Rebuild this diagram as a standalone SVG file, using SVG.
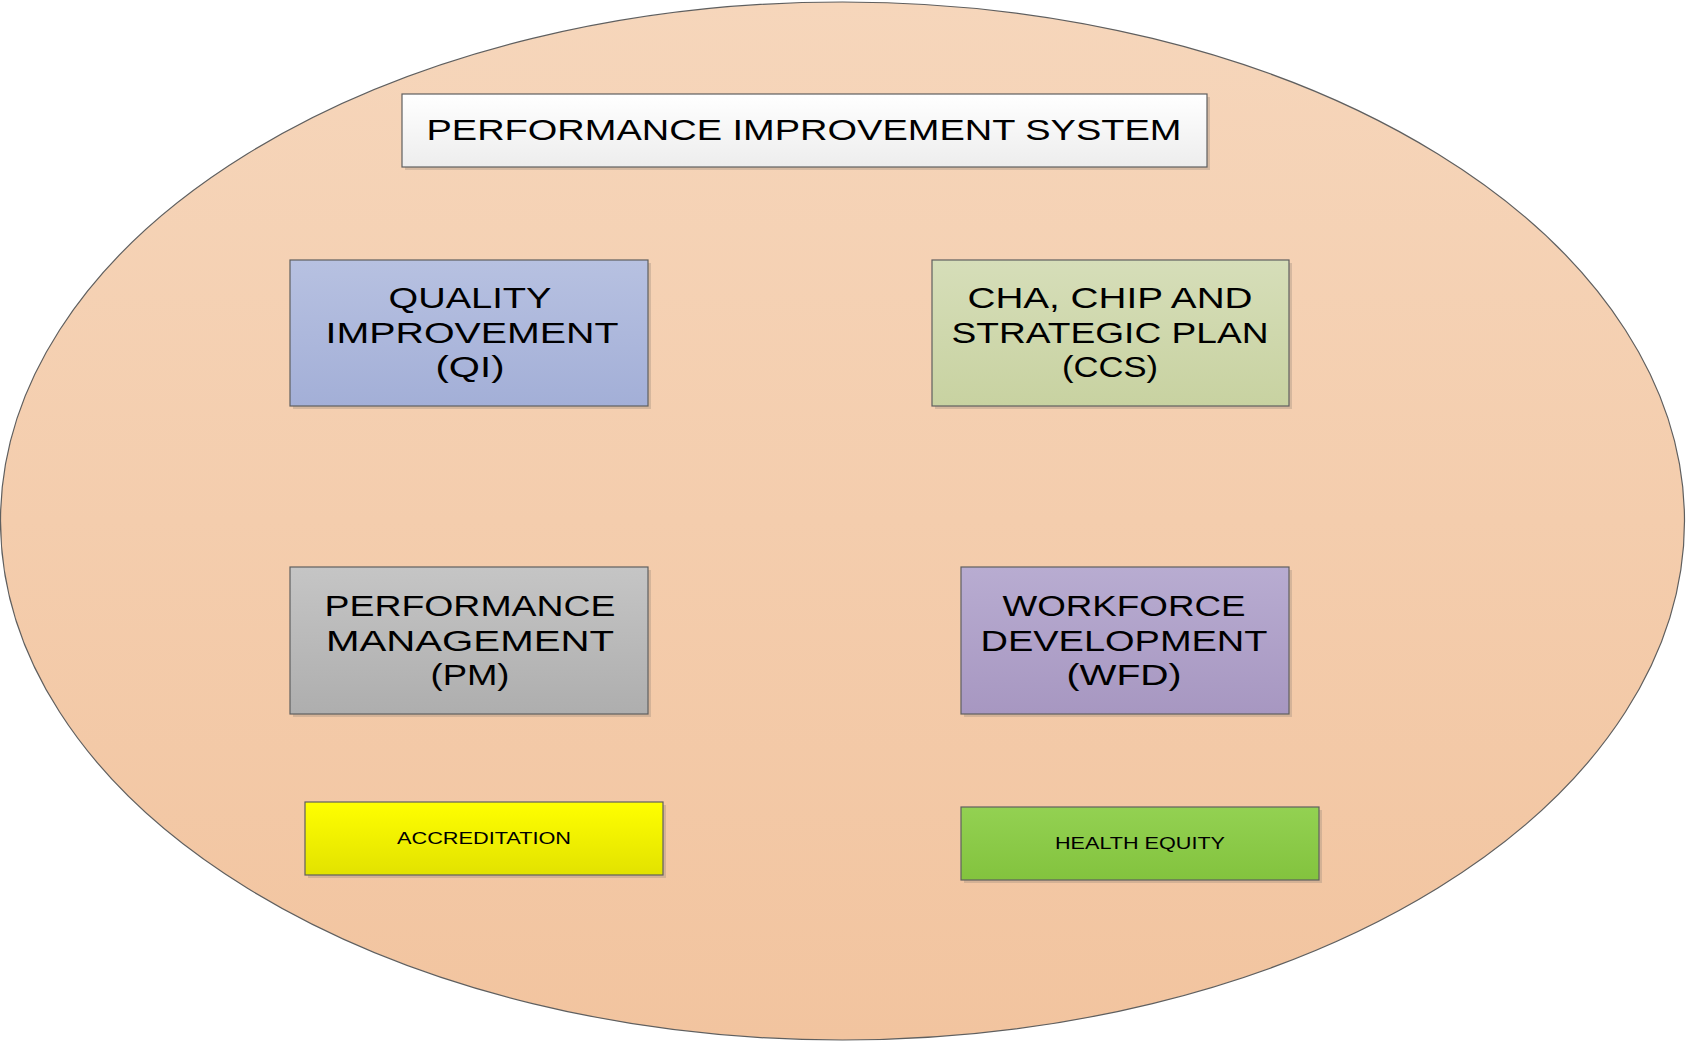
<svg xmlns="http://www.w3.org/2000/svg" width="1689" height="1042" viewBox="0 0 1689 1042">
<defs>
<linearGradient id="gEll" x1="0" y1="0" x2="0" y2="1"><stop offset="0" stop-color="#F6D6BB"/><stop offset="1" stop-color="#F2C49F"/></linearGradient>
<linearGradient id="gTitle" x1="0" y1="0" x2="0" y2="1"><stop offset="0" stop-color="#FFFFFF"/><stop offset="1" stop-color="#EDEDED"/></linearGradient>
<linearGradient id="gQI" x1="0" y1="0" x2="0" y2="1"><stop offset="0" stop-color="#B7C1E1"/><stop offset="1" stop-color="#A3AFD7"/></linearGradient>
<linearGradient id="gCCS" x1="0" y1="0" x2="0" y2="1"><stop offset="0" stop-color="#D6DEB9"/><stop offset="1" stop-color="#C8D2A1"/></linearGradient>
<linearGradient id="gPM" x1="0" y1="0" x2="0" y2="1"><stop offset="0" stop-color="#C5C5C5"/><stop offset="1" stop-color="#AEAEAE"/></linearGradient>
<linearGradient id="gWFD" x1="0" y1="0" x2="0" y2="1"><stop offset="0" stop-color="#B8ACD1"/><stop offset="1" stop-color="#A797C1"/></linearGradient>
<linearGradient id="gAcc" x1="0" y1="0" x2="0" y2="1"><stop offset="0" stop-color="#FFFF00"/><stop offset="1" stop-color="#E2E200"/></linearGradient>
<linearGradient id="gHE" x1="0" y1="0" x2="0" y2="1"><stop offset="0" stop-color="#93D152"/><stop offset="1" stop-color="#83C33E"/></linearGradient>
</defs>
<style>
.box{stroke:#5F5F5F;stroke-width:1.2}
.shadow{fill:#9A8A7A;opacity:0.35}
.t{font-family:"Liberation Sans",Arial,sans-serif;fill:#000;text-anchor:middle}
.big{font-size:30px}
.small{font-size:16px}
.title{font-family:"Liberation Sans",Arial,sans-serif;font-size:29px;fill:#000;text-anchor:middle}
</style>
<g id="background">
<ellipse cx="842.5" cy="521" rx="842" ry="519" fill="url(#gEll)" stroke="#5F5F5F" stroke-width="1.2"/>
</g>
<g id="title">
<rect class="shadow" x="405" y="97" width="805" height="73"/>
<rect class="box" x="402" y="94" width="805" height="73" fill="url(#gTitle)"/>
<text class="title" x="804" y="140" textLength="755" lengthAdjust="spacingAndGlyphs">PERFORMANCE IMPROVEMENT SYSTEM</text>
</g>
<g id="qi">
<rect class="shadow" x="293" y="263" width="358" height="146"/>
<rect class="box" x="290" y="260" width="358" height="146" fill="url(#gQI)"/>
<text class="t big" x="470" y="308" textLength="163" lengthAdjust="spacingAndGlyphs">QUALITY</text>
<text class="t big" x="472" y="343" textLength="293" lengthAdjust="spacingAndGlyphs">IMPROVEMENT</text>
<text class="t big" x="470" y="377" textLength="69" lengthAdjust="spacingAndGlyphs">(QI)</text>
</g>
<g id="ccs">
<rect class="shadow" x="935" y="263" width="357" height="146"/>
<rect class="box" x="932" y="260" width="357" height="146" fill="url(#gCCS)"/>
<text class="t big" x="1110" y="308" textLength="285" lengthAdjust="spacingAndGlyphs">CHA, CHIP AND</text>
<text class="t big" x="1110" y="343" textLength="317" lengthAdjust="spacingAndGlyphs">STRATEGIC PLAN</text>
<text class="t big" x="1110" y="377" textLength="96" lengthAdjust="spacingAndGlyphs">(CCS)</text>
</g>
<g id="pm">
<rect class="shadow" x="293" y="570" width="358" height="147"/>
<rect class="box" x="290" y="567" width="358" height="147" fill="url(#gPM)"/>
<text class="t big" x="470" y="616" textLength="291" lengthAdjust="spacingAndGlyphs">PERFORMANCE</text>
<text class="t big" x="470" y="651" textLength="288" lengthAdjust="spacingAndGlyphs">MANAGEMENT</text>
<text class="t big" x="470" y="685" textLength="79" lengthAdjust="spacingAndGlyphs">(PM)</text>
</g>
<g id="wfd">
<rect class="shadow" x="964" y="570" width="328" height="147"/>
<rect class="box" x="961" y="567" width="328" height="147" fill="url(#gWFD)"/>
<text class="t big" x="1124" y="616" textLength="243" lengthAdjust="spacingAndGlyphs">WORKFORCE</text>
<text class="t big" x="1124" y="651" textLength="287" lengthAdjust="spacingAndGlyphs">DEVELOPMENT</text>
<text class="t big" x="1124" y="685" textLength="115" lengthAdjust="spacingAndGlyphs">(WFD)</text>
</g>
<g id="accreditation">
<rect class="shadow" x="308" y="805" width="358" height="73"/>
<rect class="box" x="305" y="802" width="358" height="73" fill="url(#gAcc)"/>
<text class="t small" x="484" y="844" textLength="174" lengthAdjust="spacingAndGlyphs">ACCREDITATION</text>
</g>
<g id="health-equity">
<rect class="shadow" x="964" y="810" width="358" height="73"/>
<rect class="box" x="961" y="807" width="358" height="73" fill="url(#gHE)"/>
<text class="t small" x="1140" y="849" textLength="170" lengthAdjust="spacingAndGlyphs">HEALTH EQUITY</text>
</g>
<g id="connectors"></g>
</svg>
